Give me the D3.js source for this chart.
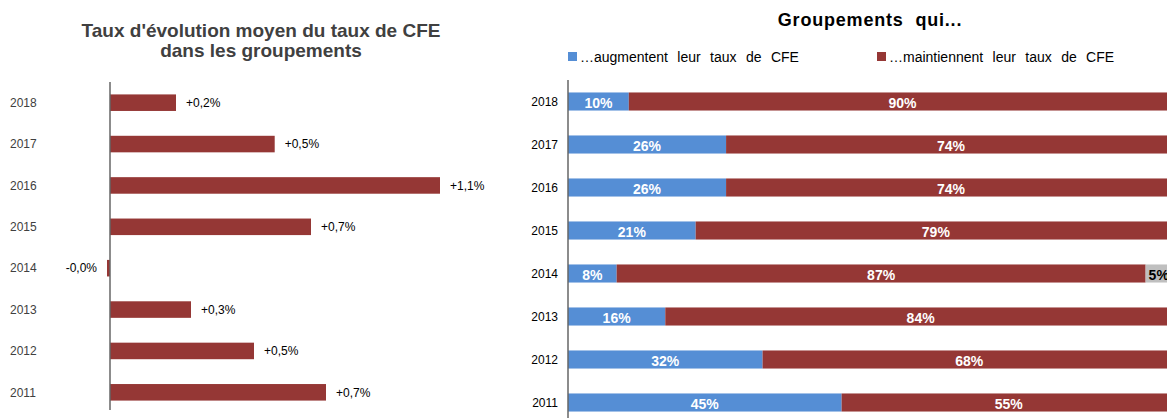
<!DOCTYPE html>
<html>
<head>
<meta charset="utf-8">
<script src="https://cdn.jsdelivr.net/npm/d3@7"></script>
<style>
  body { margin: 0; background: #fff; }
  text { font-family: "Liberation Sans", Arial, sans-serif; }
</style>
</head>
<body>
<div id="chart"></div>
<script>
// years, top to bottom
var years = ["2018", "2017", "2016", "2015", "2014", "2013", "2012", "2011"];

// left chart: average change of the CFE rate (%)
var evolution = [0.22, 0.549, 1.10, 0.67, -0.01, 0.27, 0.48, 0.72];

// right chart: share of groupements (%)
var augmentent = [10, 26, 26, 21, 8, 16, 32, 45];
var maintiennent = [90, 74, 74, 79, 87, 84, 68, 55];
var diminuent = [0, 0, 0, 0, 5, 0, 0, 0];
var seriesNames = ["…augmentent leur taux de CFE", "…maintiennent leur taux de CFE", "…diminuent leur taux de CFE"];

var colors = ["#558ed5", "#953735", "#bfbfbf"];
var labelColors = ["#fff", "#fff", "#000"];

var svg = d3.select("#chart").append("svg")
    .attr("width", 1167)
    .attr("height", 418);

// ---------- left chart ----------
var left = svg.append("g");

left.append("text")
    .attr("x", 261).attr("y", 37)
    .attr("text-anchor", "middle")
    .style("font-size", "19px").style("font-weight", "bold").attr("fill", "#404040")
    .text("Taux d'évolution moyen du taux de CFE");
left.append("text")
    .attr("x", 261).attr("y", 57)
    .attr("text-anchor", "middle")
    .style("font-size", "19px").style("font-weight", "bold").attr("fill", "#404040")
    .text("dans les groupements");

var xL = d3.scaleLinear().domain([0, 1.1]).range([110, 440]);
var yL = d3.scaleBand().domain(years).range([82, 413]).paddingInner(0.6).paddingOuter(0.3);

left.selectAll("rect.bar")
    .data(years)
    .enter()
    .append("rect")
    .attr("class", "bar")
    .attr("x", (d, i) => xL(Math.min(0, evolution[i])))
    .attr("y", d => yL(d))
    .attr("width", (d, i) => Math.max(2, Math.abs(xL(evolution[i]) - xL(0))))
    .attr("height", yL.bandwidth())
    .attr("fill", "#953735");

left.append("line")
    .attr("x1", xL(0)).attr("x2", xL(0))
    .attr("y1", 82).attr("y2", 410)
    .attr("stroke", "#666").attr("stroke-width", 1.5);

left.selectAll("text.year")
    .data(years)
    .enter()
    .append("text")
    .attr("class", "year")
    .attr("x", 10)
    .attr("y", d => yL(d) + yL.bandwidth() / 2)
    .attr("dy", "0.35em")
    .style("font-size", "12px").attr("fill", "#404040")
    .text(d => d);

function fmt(v) {
    return (v < 0 ? "-" : "+") + Math.abs(v).toFixed(1).replace(".", ",") + "%";
}

left.selectAll("text.val")
    .data(years)
    .enter()
    .append("text")
    .attr("class", "val")
    .attr("x", (d, i) => evolution[i] < 0 ? xL(evolution[i]) - 10 : xL(evolution[i]) + 10)
    .attr("text-anchor", (d, i) => evolution[i] < 0 ? "end" : "start")
    .attr("y", d => yL(d) + yL.bandwidth() / 2)
    .attr("dy", "0.35em")
    .style("font-size", "12px").attr("fill", "#000")
    .text((d, i) => fmt(evolution[i]));

// ---------- right chart ----------
var right = svg.append("g");

right.append("text")
    .attr("x", 870).attr("y", 26)
    .attr("text-anchor", "middle")
    .style("font-size", "18px").style("font-weight", "bold").attr("fill", "#000")
    .style("letter-spacing", "0.8px").style("word-spacing", "6px")
    .text("Groupements qui...");

// legend (only the first two series)
var legendX = [568, 877];
[0, 1].forEach(function(k) {
    right.append("rect")
        .attr("x", legendX[k]).attr("y", 52)
        .attr("width", 9).attr("height", 9)
        .attr("fill", colors[k]);
    right.append("text")
        .attr("x", legendX[k] + 12).attr("y", 57)
        .attr("dy", "0.35em")
        .style("font-size", "14px").style("word-spacing", "5.5px").attr("fill", "#000")
        .text(seriesNames[k]);
});

var xR = d3.scaleLinear().domain([0, 100]).range([568, 1176]);
var yR = d3.scaleBand().domain(years).range([80, 424]).paddingInner(0.58).paddingOuter(0.29);

var table = years.map((y, i) => ({ year: y, s0: augmentent[i], s1: maintiennent[i], s2: diminuent[i] }));
var stack = d3.stack().keys(["s0", "s1", "s2"])(table);

var layers = right.selectAll("g.layer")
    .data(stack)
    .enter()
    .append("g")
    .attr("class", "layer");

layers.each(function(layer, k) {
    var g = d3.select(this);
    var pts = layer.filter(p => p[1] - p[0] > 0);
    g.selectAll("rect")
        .data(pts)
        .enter()
        .append("rect")
        .attr("x", p => xR(p[0]))
        .attr("y", p => yR(p.data.year))
        .attr("width", p => xR(p[1]) - xR(p[0]))
        .attr("height", yR.bandwidth())
        .attr("fill", colors[k]);
    g.selectAll("text")
        .data(pts)
        .enter()
        .append("text")
        .attr("x", p => k == 2 ? xR(p[0]) + 3 : (xR(p[0]) + xR(p[1])) / 2)
        .attr("text-anchor", k == 2 ? "start" : "middle")
        .attr("y", p => yR(p.data.year) + yR.bandwidth() / 2 + 2)
        .attr("dy", "0.35em")
        .style("font-size", "14px").style("font-weight", "bold")
        .attr("fill", labelColors[k])
        .text(p => (p[1] - p[0]) + "%");
});

right.append("line")
    .attr("x1", xR(0)).attr("x2", xR(0))
    .attr("y1", 80).attr("y2", 418)
    .attr("stroke", "#666").attr("stroke-width", 1.5);

right.selectAll("text.year")
    .data(years)
    .enter()
    .append("text")
    .attr("class", "year")
    .attr("x", 558)
    .attr("text-anchor", "end")
    .attr("y", d => yR(d) + yR.bandwidth() / 2)
    .attr("dy", "0.35em")
    .style("font-size", "12px").attr("fill", "#000")
    .text(d => d);
</script>
</body>
</html>
